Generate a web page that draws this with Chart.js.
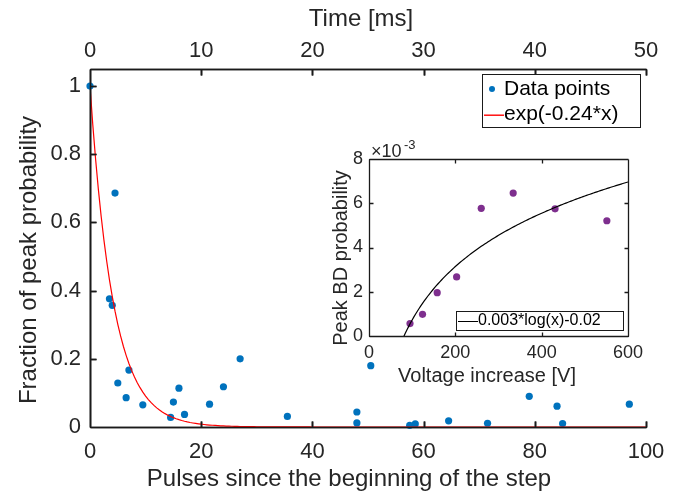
<!DOCTYPE html>
<html>
<head>
<meta charset="utf-8">
<script src="https://cdn.jsdelivr.net/npm/chart.js@4.4.1/dist/chart.umd.min.js"></script>
<style>
  html, body { margin: 0; padding: 0; background: #fff; }
  #wrap { position: relative; width: 689px; height: 493px; }
  #mainChart { position: absolute; left: 0; top: 0; }
  #insetChart { position: absolute; left: 320px; top: 130px; }
</style>
</head>
<body>
<div id="wrap">
  <canvas id="mainChart" width="689" height="493"></canvas>
  <canvas id="insetChart" width="340" height="260"></canvas>
</div>
<script>
// main plot: pulses since step start vs fraction of peak probability
const pulses = [0, 3.5, 4, 4.5, 5, 6.5, 7, 9.5, 14.5, 15, 16, 17, 21.5, 24, 27, 35.5,
                48, 48, 50.5, 57.5, 58.5, 64.5, 71.5, 79, 84, 85, 97];
const fraction = [1, 0.376, 0.357, 0.686, 0.129, 0.086, 0.167, 0.065, 0.028, 0.073, 0.114, 0.037,
                  0.067, 0.118, 0.2, 0.031, 0.044, 0.012, 0.18, 0.005, 0.009, 0.018, 0.011,
                  0.09, 0.061, 0.01, 0.067];
const decayRate = 0.24;           // exp(-0.24*x)
const xTicks = [0, 20, 40, 60, 80, 100];
const timeTicks = [0, 10, 20, 30, 40, 50];
const yTicks = [0, 0.2, 0.4, 0.6, 0.8, 1];

// inset: voltage increase vs peak BD probability
const voltage = [95, 124, 158, 203, 260, 334, 431, 551];
const peakBD = [0.00056, 0.00098, 0.00196, 0.00267, 0.00577, 0.00646, 0.00575, 0.00521];
const logA = 0.00348, logB = -0.0153;   // drawn fit a*log(x)+b
const insetXTicks = [0, 200, 400, 600];
const insetYTicks = [0, 0.002, 0.004, 0.006, 0.008];

const FONT = '"Liberation Sans", Arial, Helvetica, sans-serif';
const INK = '#262626';
const AXIS = '#1a1a1a';
Chart.defaults.font.family = FONT;

const fitCurve = [];
for (let x = 0; x <= 100; x += 0.5) fitCurve.push({ x: x, y: Math.exp(-decayRate * x) });

const logCurve = [];
for (let x = 80; x <= 600; x += 4) logCurve.push({ x: x, y: logA * Math.log(x) + logB });

const setTicks = vals => s => { s.ticks = vals.map(v => ({ value: v })); };
const axisBorder = { display: true, color: AXIS, width: 1 };
const hidden = { display: false, drawTicks: false, tickLength: 0 };

function seg(ctx, x0, y0, x1, y1) { ctx.moveTo(x0, y0); ctx.lineTo(x1, y1); }
function hline(ctx, x0, x1, y) { ctx.fillRect(x0, Math.round(y), x1 - x0 + 1, 1); }
function vline(ctx, x, y0, y1) { ctx.fillRect(Math.round(x), y0, 1, y1 - y0 + 1); }

// axes with inward ticks, drawn from the chart's own scales
function drawMainAxes(chart) {
  const { ctx, chartArea: a, scales } = chart;
  const L = Math.round(a.left) + 0.5, R = Math.round(a.right) + 0.5;
  const T = Math.round(a.top) + 0.5, B = Math.round(a.bottom) + 0.5;
  ctx.save();
  ctx.strokeStyle = AXIS;
  ctx.lineWidth = 1.6;
  ctx.beginPath();
  seg(ctx, L, T, L, B);
  seg(ctx, L, B, R, B);
  seg(ctx, L, T, R, T);
  scales.x.ticks.forEach(t => {
    const px = Math.round(scales.x.getPixelForValue(t.value)) + 0.5;
    seg(ctx, px, B, px, B - 6);
  });
  scales.x2.ticks.forEach(t => {
    const px = Math.round(scales.x2.getPixelForValue(t.value)) + 0.5;
    seg(ctx, px, T, px, T + 6);
  });
  scales.y.ticks.forEach(t => {
    const py = Math.round(scales.y.getPixelForValue(t.value)) + 0.5;
    seg(ctx, L, py, L + 6, py);
  });
  ctx.stroke();
  ctx.restore();
}

// titles and legend for the main plot
const mainDecor = {
  id: 'mainDecor',
  beforeDatasetsDraw(chart) { drawMainAxes(chart); },
  afterDraw(chart) {
    const ctx = chart.ctx;
    drawMainAxes(chart);
    ctx.save();
    ctx.fillStyle = INK;
    ctx.font = '24px ' + FONT;
    ctx.textAlign = 'center';
    ctx.textBaseline = 'alphabetic';
    ctx.fillText('Time [ms]', 361, 26);
    ctx.fillText('Pulses since the beginning of the step', 349, 486);
    ctx.save();
    ctx.translate(36, 260);
    ctx.rotate(-Math.PI / 2);
    ctx.fillText('Fraction of peak probability', 0, 0);
    ctx.restore();

    // legend
    ctx.fillStyle = '#fff';
    ctx.fillRect(482, 74, 158, 53);
    ctx.fillStyle = AXIS;
    hline(ctx, 482, 640, 74);
    hline(ctx, 482, 640, 127);
    vline(ctx, 482, 74, 127);
    vline(ctx, 640, 74, 127);
    ctx.fillStyle = '#0072BD';
    ctx.beginPath();
    ctx.arc(492, 89, 3, 0, Math.PI * 2);
    ctx.fill();
    ctx.fillStyle = '#FF0000';
    ctx.fillRect(484, 114.5, 20, 1.4);
    ctx.fillStyle = '#000';
    ctx.font = '21px ' + FONT;
    ctx.textAlign = 'left';
    ctx.textBaseline = 'middle';
    ctx.fillText('Data points', 504, 89);
    ctx.fillText('exp(-0.24*x)', 504, 114);
    ctx.restore();
  }
};

new Chart(document.getElementById('mainChart'), {
  type: 'scatter',
  data: {
    datasets: [
      {
        label: 'exp(-0.24*x)',
        data: fitCurve,
        showLine: true,
        borderColor: '#FF0000',
        borderWidth: 1.2,
        pointRadius: 0
      },
      {
        label: 'Data points',
        data: pulses.map((p, i) => ({ x: p, y: fraction[i] })),
        backgroundColor: '#0072BD',
        borderColor: '#0072BD',
        pointRadius: 3.6,
        pointBorderWidth: 0,
        clip: false
      }
    ]
  },
  options: {
    responsive: false,
    animation: false,
    layout: { padding: { left: 0, right: 43, top: 0, bottom: 0 } },
    plugins: { legend: { display: false }, tooltip: { enabled: false } },
    scales: {
      x: {
        type: 'linear', position: 'bottom', min: 0, max: 100,
        afterBuildTicks: setTicks(xTicks),
        ticks: { font: { size: 22 }, color: INK, padding: 12, maxRotation: 0 },
        grid: hidden, border: axisBorder,
        afterFit: s => { s.height = 66; }
      },
      x2: {
        type: 'linear', position: 'top', min: 0, max: 50,
        afterBuildTicks: setTicks(timeTicks),
        ticks: { font: { size: 22 }, color: INK, padding: 5, maxRotation: 0 },
        grid: hidden, border: axisBorder,
        afterFit: s => { s.height = 69; }
      },
      y: {
        type: 'linear', position: 'left', min: 0, max: 1.05,
        afterBuildTicks: setTicks(yTicks),
        ticks: { font: { size: 22 }, color: INK, padding: 9, callback: v => String(+v.toFixed(1)) },
        grid: hidden, border: axisBorder,
        afterFit: s => { s.width = 90; }
      }
    }
  },
  plugins: [mainDecor]
});

// inset: white axes area, box, inward ticks, titles, legend
const insetDecor = {
  id: 'insetDecor',
  beforeDraw(chart) {
    const { ctx, chartArea: a } = chart;
    ctx.save();
    ctx.fillStyle = '#fff';
    ctx.fillRect(a.left, a.top, a.right - a.left, a.bottom - a.top);
    ctx.restore();
  },
  afterDraw(chart) {
    const { ctx, chartArea: a, scales } = chart;
    const L = Math.round(a.left) + 0.5, R = Math.round(a.right) + 0.5;
    const T = Math.round(a.top) + 0.5, B = Math.round(a.bottom) + 0.5;
    ctx.save();
    ctx.strokeStyle = AXIS;
    ctx.lineWidth = 1.3;
    ctx.beginPath();
    seg(ctx, L, T, R, T);
    seg(ctx, R, T, R, B);
    seg(ctx, R, B, L, B);
    seg(ctx, L, B, L, T);
    scales.x.ticks.forEach(t => {
      const px = Math.round(scales.x.getPixelForValue(t.value)) + 0.5;
      seg(ctx, px, B, px, B - 4);
      seg(ctx, px, T, px, T + 4);
    });
    scales.y.ticks.forEach(t => {
      const py = Math.round(scales.y.getPixelForValue(t.value)) + 0.5;
      seg(ctx, L, py, L + 4, py);
      seg(ctx, R, py, R - 4, py);
    });
    ctx.stroke();

    ctx.fillStyle = INK;
    ctx.font = '20px ' + FONT;
    ctx.textAlign = 'center';
    ctx.textBaseline = 'alphabetic';
    ctx.fillText('Voltage increase [V]', 167, 252);
    ctx.save();
    ctx.translate(27, 128);
    ctx.rotate(-Math.PI / 2);
    ctx.fillText('Peak BD probability', 0, 0);
    ctx.restore();
    ctx.textAlign = 'left';
    ctx.font = '18px ' + FONT;
    ctx.fillText('\u00d710', 51, 27);
    ctx.font = '13px ' + FONT;
    ctx.fillText('-3', 84, 19);

    // legend
    ctx.fillStyle = '#fff';
    ctx.fillRect(136, 181, 167, 19);
    ctx.fillStyle = AXIS;
    hline(ctx, 136, 303, 181);
    hline(ctx, 136, 303, 200);
    vline(ctx, 136, 181, 200);
    vline(ctx, 303, 181, 200);
    ctx.fillStyle = '#000';
    hline(ctx, 138, 157, 191);
    ctx.font = '16px ' + FONT;
    ctx.textBaseline = 'middle';
    ctx.fillText('0.003*log(x)-0.02', 158, 191);
    ctx.restore();
  }
};

new Chart(document.getElementById('insetChart'), {
  type: 'scatter',
  data: {
    datasets: [
      {
        label: '0.003*log(x)-0.02',
        data: logCurve,
        showLine: true,
        borderColor: '#000',
        borderWidth: 1.2,
        pointRadius: 0
      },
      {
        label: 'Peak BD',
        data: voltage.map((v, i) => ({ x: v, y: peakBD[i] })),
        backgroundColor: '#7E2F8E',
        borderColor: '#7E2F8E',
        pointRadius: 3.6,
        pointBorderWidth: 0
      }
    ]
  },
  options: {
    responsive: false,
    animation: false,
    layout: { padding: { left: 0, right: 32, top: 29, bottom: 0 } },
    plugins: { legend: { display: false }, tooltip: { enabled: false } },
    scales: {
      x: {
        type: 'linear', position: 'bottom', min: 0, max: 600,
        afterBuildTicks: setTicks(insetXTicks),
        ticks: { font: { size: 18 }, color: INK, padding: 6, maxRotation: 0 },
        grid: hidden, border: axisBorder,
        afterFit: s => { s.height = 54; }
      },
      y: {
        type: 'linear', position: 'left', min: 0, max: 0.008,
        afterBuildTicks: setTicks(insetYTicks),
        ticks: { font: { size: 18 }, color: INK, padding: 6, callback: v => String(Math.round(v * 1000)) },
        grid: hidden, border: axisBorder,
        afterFit: s => { s.width = 49; }
      }
    }
  },
  plugins: [insetDecor]
});
</script>
</body>
</html>
